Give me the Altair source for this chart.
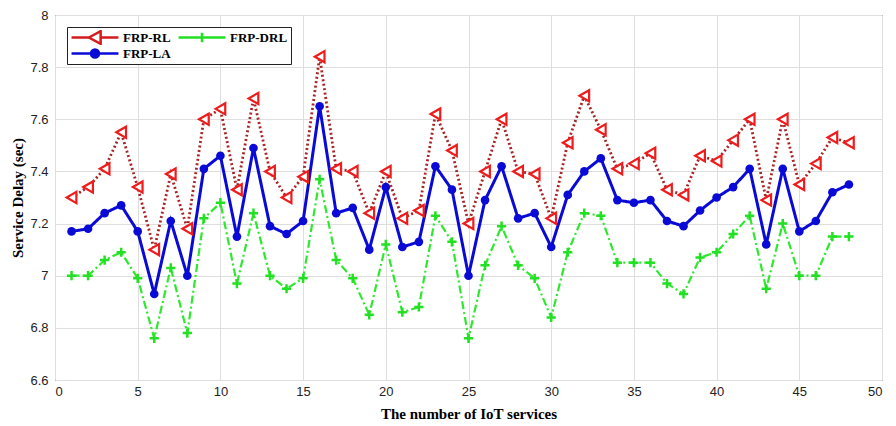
import altair as alt
import pandas as pd

x_vals = list(range(1, 49))
series_names = ["FRP-RL", "FRP-DRL", "FRP-LA"]
legend_order = ["FRP-RL", "FRP-LA", "FRP-DRL"]

frp_rl = [7.30, 7.34, 7.41, 7.55, 7.34, 7.10, 7.39, 7.18, 7.60, 7.64,
          7.33, 7.68, 7.40, 7.30, 7.38, 7.84, 7.41, 7.40, 7.24, 7.40,
          7.22, 7.25, 7.62, 7.48, 7.20, 7.40, 7.60, 7.40, 7.39, 7.22,
          7.51, 7.69, 7.56, 7.41, 7.43, 7.47, 7.33, 7.31, 7.46, 7.44,
          7.52, 7.60, 7.29, 7.60, 7.35, 7.43, 7.53, 7.51]
frp_drl = [7.00, 7.00, 7.06, 7.09, 6.99, 6.76, 7.03, 6.78, 7.22, 7.28,
           6.97, 7.24, 7.00, 6.95, 6.99, 7.37, 7.06, 6.99, 6.85, 7.12,
           6.86, 6.88, 7.23, 7.13, 6.76, 7.04, 7.19, 7.04, 6.99, 6.84,
           7.09, 7.24, 7.23, 7.05, 7.05, 7.05, 6.97, 6.93, 7.07, 7.09,
           7.16, 7.23, 6.95, 7.20, 7.00, 7.00, 7.15, 7.15]
frp_la = [7.17, 7.18, 7.24, 7.27, 7.17, 6.93, 7.21, 7.00, 7.41, 7.46,
          7.15, 7.49, 7.19, 7.16, 7.21, 7.65, 7.24, 7.26, 7.10, 7.34,
          7.11, 7.13, 7.42, 7.33, 7.00, 7.29, 7.42, 7.22, 7.24, 7.11,
          7.31, 7.40, 7.45, 7.29, 7.28, 7.29, 7.21, 7.19, 7.25, 7.30,
          7.34, 7.41, 7.12, 7.41, 7.17, 7.21, 7.32, 7.35]

x_ticks = [0, 5, 10, 15, 20, 25, 30, 35, 40, 45, 50]
y_ticks = [6.6, 6.8, 7.0, 7.2, 7.4, 7.6, 7.8, 8.0]

rows = []
for name, vals in zip(series_names, [frp_rl, frp_drl, frp_la]):
    for xv, yv in zip(x_vals, vals):
        rows.append({"x": xv, "delay": yv, "series": name})
df = pd.DataFrame(rows)

xenc = alt.X("x:Q", scale=alt.Scale(domain=[0, 50], nice=False),
             axis=alt.Axis(values=x_ticks, title="The number of IoT services",
                           format="d", labelPadding=5, titlePadding=8))
yenc = alt.Y("delay:Q", scale=alt.Scale(domain=[6.6, 8.0], nice=False, zero=False),
             axis=alt.Axis(values=y_ticks, title="Service Delay (sec)",
                           format="~g", labelPadding=7, titlePadding=4))

base = alt.Chart(df)

styles = {
    "FRP-RL": dict(line="#a82424", dash=[2, 2.5], lw=2.8),
    "FRP-DRL": dict(line="#2ee82e", dash=[8, 3, 2, 3], lw=2.2),
    "FRP-LA": dict(line="#0a0ad6", dash=[1, 0], lw=3),
}

layers = []
for name in series_names:
    s = styles[name]
    sub = base.transform_filter(alt.datum.series == name)
    layers.append(sub.mark_line(color=s["line"], strokeDash=s["dash"],
                                strokeWidth=s["lw"]).encode(x=xenc, y=yenc))
for name in series_names:
    sub = base.transform_filter(alt.datum.series == name)
    if name == "FRP-RL":
        pt = sub.mark_point(shape="triangle-left", size=125, filled=False,
                            fill="white", stroke="#ee1c1c", strokeWidth=2.2,
                            opacity=1)
    elif name == "FRP-DRL":
        pt = sub.mark_point(shape="M-1,0H1M0,-1V1", size=85, filled=False,
                            stroke="#22e022", strokeWidth=2.5, opacity=1)
    else:
        pt = sub.mark_point(shape="circle", size=75, filled=True,
                            color="#0a0ad6", opacity=1)
    layers.append(pt.encode(x=xenc, y=yenc))

legend_paths = [
    "M-1,0H-0.26M0.26,0H1M-0.26,0L0.24,-0.27L0.24,0.27Z",
    "M-1,0H1M-0.17,0A0.17,0.17 0 1,0 0.17,0A0.17,0.17 0 1,0 -0.17,0Z"
    "M-0.1,0A0.1,0.1 0 1,0 0.1,0A0.1,0.1 0 1,0 -0.1,0Z"
    "M-0.03,0A0.03,0.03 0 1,0 0.03,0A0.03,0.03 0 1,0 -0.03,0Z",
    "M-1,0H1M0,-0.2V0.2",
]
legend_colors = ["#d41c1c", "#0a0ad6", "#22e022"]

leg = alt.Legend(title=None, orient="top-left", offset=12, columns=2,
                 symbolSize=2200, symbolStrokeWidth=2.5, symbolOpacity=1,
                 labelFont="Liberation Serif", labelFontWeight="bold",
                 labelFontSize=13, labelColor="black", strokeColor="#222",
                 fillColor="white", padding=3, columnPadding=6, rowPadding=1,
                 clipHeight=15, labelOffset=3)

legend_layer = base.transform_filter("datum.x < 0").mark_point(
    filled=False, opacity=1, size=2200, strokeWidth=2.5
).encode(
    x=xenc, y=yenc,
    color=alt.Color("series:N", scale=alt.Scale(domain=legend_order, range=legend_colors), legend=leg),
    shape=alt.Shape("series:N", scale=alt.Scale(domain=legend_order, range=legend_paths), legend=leg),
)
layers.append(legend_layer)

chart = alt.layer(*layers).properties(
    width=827, height=365,
    autosize=alt.AutoSizeParams(type="none"),
    padding={"left": 47, "top": 7, "right": 6, "bottom": 40},
).configure_view(
    stroke="#333", strokeWidth=1
).configure_axis(
    grid=True, gridColor="#dedede", gridWidth=1, domain=False, ticks=False,
    labelFont="Liberation Sans", labelFontSize=13, labelColor="#222",
    titleFont="Liberation Serif", titleFontWeight="bold", titleFontSize=15,
    titleColor="black"
)

chart.save("out.html", embed_options={"renderer": "svg", "actions": False})
